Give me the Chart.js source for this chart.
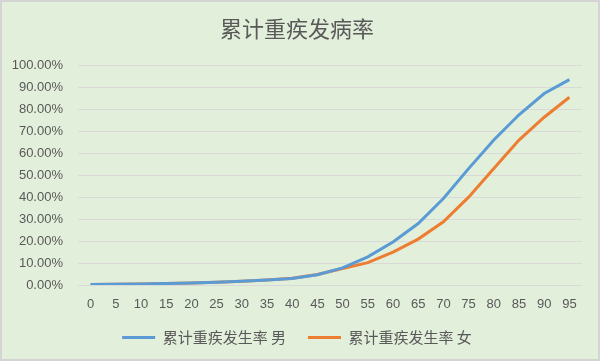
<!DOCTYPE html>
<html>
<head>
<meta charset="utf-8">
<script src="https://cdn.jsdelivr.net/npm/chart.js@4"></script>
<style>
  html, body { margin: 0; padding: 0; background: #e2efda; }
  #wrap { width: 600px; height: 361px; }
</style>
</head>
<body>
<div id="wrap"><canvas id="chart" width="600" height="361"></canvas></div>
<script>
// ages on the x axis
const ages = ['0', '5', '10', '15', '20', '25', '30', '35', '40', '45',
  '50', '55', '60', '65', '70', '75', '80', '85', '90', '95'];

// cumulative critical illness incidence, percent
const maleRate = [0.2, 0.3, 0.5, 0.7, 0.9, 1.2, 1.7, 2.3, 3.0, 4.7,
  7.8, 12.8, 19.6, 28.0, 39.4, 53.0, 66.0, 77.5, 87.2, 93.5];
const femaleRate = [0.2, 0.3, 0.5, 0.7, 0.9, 1.2, 1.7, 2.3, 3.1, 4.8,
  7.5, 10.2, 15.0, 20.9, 28.8, 40.0, 53.0, 66.0, 76.4, 85.5];

const seriesNames = ['累计重疾发生率 男', '累计重疾发生率 女'];
const yTicks = [0, 10, 20, 30, 40, 50, 60, 70, 80, 90, 100];

const textGrey = '#595959';
const cjkFont = '"Noto Sans CJK SC", "Noto Sans", sans-serif';

// green background and thin grey frame
const frame = {
  id: 'frame',
  beforeDraw(chart) {
    const { ctx, width, height } = chart;
    ctx.save();
    ctx.fillStyle = '#e2efda';
    ctx.fillRect(0, 0, width, height);
    ctx.strokeStyle = '#d4d4d4';
    ctx.lineWidth = 2;
    ctx.strokeRect(1, 1, width - 2, height - 2);
    ctx.restore();
  }
};

new Chart(document.getElementById('chart'), {
  type: 'line',
  data: {
    labels: ages,
    datasets: [
      {
        label: seriesNames[0],
        data: maleRate,
        borderColor: '#5b9bd5',
        backgroundColor: '#5b9bd5',
        borderWidth: 3,
        pointRadius: 0,
        tension: 0
      },
      {
        label: seriesNames[1],
        data: femaleRate,
        borderColor: '#ed7d31',
        backgroundColor: '#ed7d31',
        borderWidth: 3,
        pointRadius: 0,
        tension: 0
      }
    ]
  },
  options: {
    responsive: false,
    animation: false,
    layout: { padding: { left: 12, right: 18, top: 0, bottom: 6 } },
    plugins: {
      title: {
        display: true,
        text: '累计重疾发病率',
        color: textGrey,
        font: { family: cjkFont, size: 22, weight: 'normal' },
        padding: { top: 15, bottom: 24 }
      },
      legend: {
        position: 'bottom',
        labels: {
          color: textGrey,
          font: { family: cjkFont, size: 15 },
          usePointStyle: true,
          pointStyle: 'line',
          pointStyleWidth: 33,
          padding: 22
        }
      },
      tooltip: { enabled: false }
    },
    scales: {
      x: {
        offset: true,
        afterFit(scale) { scale.height = 23; },
        grid: { display: false, drawTicks: false },
        border: { display: false },
        ticks: {
          color: textGrey,
          font: { family: '"Liberation Sans", sans-serif', size: 13 },
          padding: 12,
          maxRotation: 0,
          autoSkip: false
        }
      },
      y: {
        min: 0,
        max: 100,
        afterFit(scale) { scale.width = 66; },
        afterBuildTicks(scale) { scale.ticks = yTicks.map(v => ({ value: v })); },
        grid: { color: '#d9d9d9', lineWidth: 1, drawTicks: false },
        border: { display: false },
        ticks: {
          color: textGrey,
          font: { family: '"Liberation Sans", sans-serif', size: 13 },
          padding: 15,
          callback: v => v.toFixed(2) + '%'
        }
      }
    }
  },
  plugins: [frame]
});
</script>
</body>
</html>
